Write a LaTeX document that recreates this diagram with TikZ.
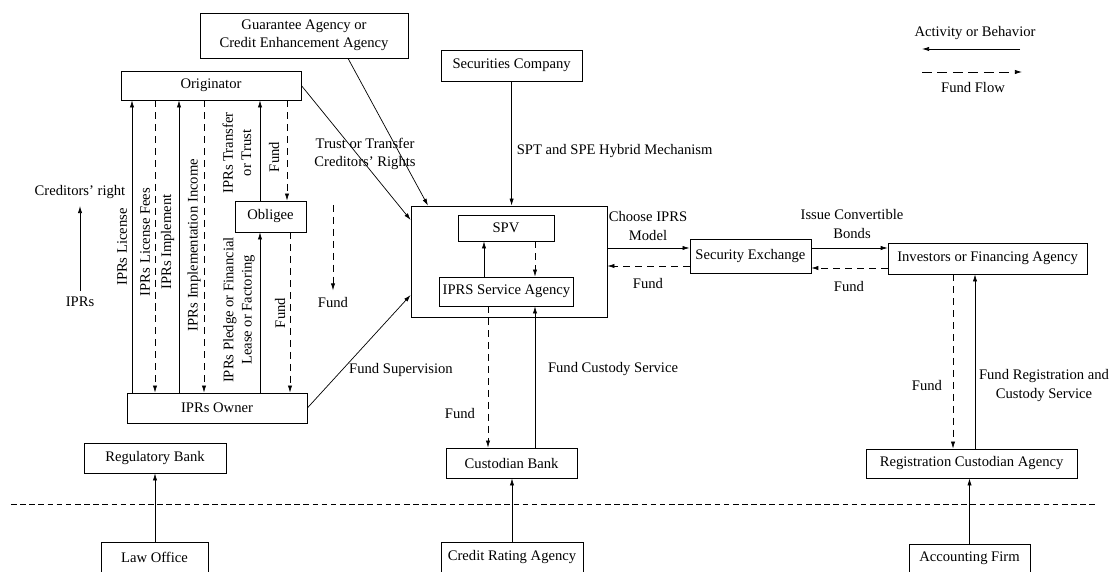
\documentclass[tikz,border=0pt]{standalone}
\usepackage{fontspec}
\setmainfont{Liberation Serif}
\usetikzlibrary{arrows.meta}

\begin{document}
\begin{tikzpicture}[font=\fontsize{10.4}{13}\selectfont, line width=0.5pt]
        \tikzstyle{box}=[draw, inner sep=2pt, align=center, minimum height=0.75cm]
        \tikzstyle{lbl}=[inner sep=1pt, align=center]
        \tikzstyle{act}=[-{Latex[length=5pt,width=3pt]}]
        \tikzstyle{fund}=[act, dash pattern=on 5pt off 3.5pt]
        \useasboundingbox (0,0) rectangle (27.8,-14.3);
        % boxes
        \node [box, minimum width=5.2cm, minimum height=1.125cm] (guar) at (7.6,-0.8875) {Guarantee Agency or\\Credit Enhancement Agency};
        \node [box, minimum width=4.5cm, minimum height=0.725cm] (orig) at (5.275,-2.1375) {Originator};
        \node [box, minimum width=3.525cm, minimum height=0.775cm] (sec) at (12.79,-1.64) {Securities Company};
        \node [box, minimum width=1.775cm, minimum height=0.775cm] (oblg) at (6.7625,-5.4125) {Obligee};
        \node [box, minimum width=4.5cm] (owner) at (5.425,-10.2) {IPRs Owner};
        \node [box, minimum width=4.9cm, minimum height=2.775cm] (frame) at (12.725,-6.5375) {};
        \node [box, minimum width=2.4cm, minimum height=0.65cm] (spv) at (12.65,-5.7) {SPV};
        \node [box, minimum width=3.325cm, minimum height=0.725cm] (serv) at (12.66,-7.2875) {IPRS Service Agency};
        \node [box, minimum width=3.275cm] (cbank) at (12.79,-11.575) {Custodian Bank};
        \node [box, minimum width=3.025cm, minimum height=0.85cm] (sex) at (18.76,-6.4125) {Security Exchange};
        \node [box, minimum width=4.975cm, minimum height=0.775cm] (inv) at (24.69,-6.4625) {Investors or Financing Agency};
        \node [box, minimum width=5.275cm, minimum height=0.725cm] (reg) at (24.29,-11.5875) {Registration Custodian Agency};
        \node [box, minimum width=3.55cm] (rbank) at (3.875,-11.45) {Regulatory Bank};
        \node [box, minimum width=2.675cm] (law) at (3.8625,-13.925) {Law Office};
        \node [box, minimum width=3.55cm] (rating) at (12.8,-13.925) {Credit Rating Agency};
        \node [box, minimum width=3.025cm, minimum height=0.7cm] (acc) at (24.2375,-13.95) {Accounting Firm};
        % legend
        \node [lbl] (lact) at (24.375,-0.825) {Activity or Behavior};
        \coordinate (la1) at (25.5,-1.225);
        \coordinate (la2) at (23.05,-1.225);
        \draw [act] (la1) -- (la2);
        \coordinate (lf1) at (23.05,-1.8);
        \coordinate (lf2) at (25.55,-1.8);
        \draw [fund, dash pattern=on 7pt off 4pt] (lf1) -- (lf2);
        \node [lbl] (lfund) at (24.325,-2.2) {Fund Flow};
        \node [lbl] (credr) at (2.0,-4.8) {Creditors’ right};
        \node [lbl] (iprs) at (2.0,-7.55) {IPRs};
        \draw [act, shorten <=3pt, shorten >=4pt] (iprs) -- (credr);
        % originator and IPRs owner
        \draw [act] (owner.north -| 3.3,0) -- (orig.south -| 3.3,0);
        \draw [fund] (orig.south -| 3.875,0) -- (owner.north -| 3.875,0);
        \draw [act] (owner.north -| 4.475,0) -- (orig.south -| 4.475,0);
        \draw [fund] (orig.south -| 5.1,0) -- (owner.north -| 5.1,0);
        \draw [act] (oblg.north -| 6.5,0) -- (orig.south -| 6.5,0);
        \draw [fund] (orig.south -| 7.175,0) -- (oblg.north -| 7.175,0);
        \draw [act] (owner.north -| 6.5,0) -- (oblg.south -| 6.5,0);
        \draw [fund] (oblg.south -| 7.25,0) -- (owner.north -| 7.25,0);
        \node [lbl, rotate=90] (l1) at (3.05,-6.175) {IPRs License};
        \node [lbl, rotate=90] (l2) at (3.625,-6.05) {IPRs License Fees};
        \node [lbl, rotate=90] (l3) at (4.19,-6.05) {IPRs Implement};
        \node [lbl, rotate=90] (l4) at (4.85,-6.125) {IPRs Implementation Income};
        \node [lbl, rotate=90] (l5) at (5.925,-3.825) {IPRs Transfer\\or Trust};
        \node [lbl, rotate=90] (l6) at (6.85,-3.925) {Fund};
        \node [lbl, rotate=90] (l7) at (5.975,-7.75) {IPRs Pledge or Financial\\Lease or Factoring};
        \node [lbl, rotate=90] (l8) at (7.0,-7.825) {Fund};
        \coordinate (ftop) at (8.325,-5.125);
        \node [lbl] (fund3) at (8.325,-7.575) {Fund};
        \draw [fund, shorten >=4pt] (ftop) -- (fund3.north);
        % into the SPV frame
        \draw [act] (orig.east) -- (frame.west |- 0,-5.5);
        \draw [act] (guar.south -| 8.7,0) -- (frame.north -| 10.7,0);
        \draw [act] (sec) -- (sec |- frame.north);
        \draw [act] (owner.east) -- (frame.west |- 0,-7.375);
        \node [lbl] (ltrust) at (9.125,-3.85) {Trust or Transfer\\Creditors’ Rights};
        \node [lbl, anchor=west] (lspt) at (12.875,-3.775) {SPT and SPE Hybrid Mechanism};
        \node [lbl] (lsup) at (10.025,-9.25) {Fund Supervision};
        \draw [act] (serv.north -| 12.1,0) -- (spv.south -| 12.1,0);
        \draw [fund] (spv.south -| 13.375,0) -- (serv.north -| 13.375,0);
        % custodian bank
        \draw [fund] (serv.south -| 12.2,0) -- (cbank.north -| 12.2,0);
        \draw [act] (cbank.north -| 13.375,0) -- (serv.south -| 13.375,0);
        \node [lbl] (lcf) at (11.5,-10.325) {Fund};
        \node [lbl] (lcus) at (15.325,-9.225) {Fund Custody Service};
        % exchange and investors
        \draw [act] (frame.east |- 0,-6.2) -- (sex.west |- 0,-6.2);
        \draw [fund] (sex.west |- 0,-6.65) -- (frame.east |- 0,-6.65);
        \node [lbl] (lchoose) at (16.2,-5.65) {Choose IPRS\\Model};
        \node [lbl] (lsf) at (16.2,-7.1) {Fund};
        \draw [act] (sex.east |- 0,-6.2) -- (inv.west |- 0,-6.2);
        \draw [fund] (inv.west |- 0,-6.7) -- (sex.east |- 0,-6.7);
        \node [lbl] (lissue) at (21.3,-5.6) {Issue Convertible\\Bonds};
        \node [lbl] (lif) at (21.225,-7.175) {Fund};
        \draw [fund] (inv.south -| 23.825,0) -- (reg.north -| 23.825,0);
        \draw [act] (reg.north -| 24.375,0) -- (inv.south -| 24.375,0);
        \node [lbl] (lrf) at (23.175,-9.625) {Fund};
        \node [lbl] (lreg) at (26.1,-9.64) {Fund Registration and\\Custody Service};
        % separator and bottom row
        \coordinate (sepl) at (0.275,-12.6);
        \coordinate (sepr) at (27.4,-12.6);
        \draw [dash pattern=on 4pt off 2.5pt] (sepl) -- (sepr);
        \draw [act] (law.north -| 3.875,0) -- (rbank.south -| 3.875,0);
        \draw [act] (rating) -- (rating |- cbank.south);
        \draw [act] (acc) -- (acc |- reg.south);
\end{tikzpicture}
\end{document}
